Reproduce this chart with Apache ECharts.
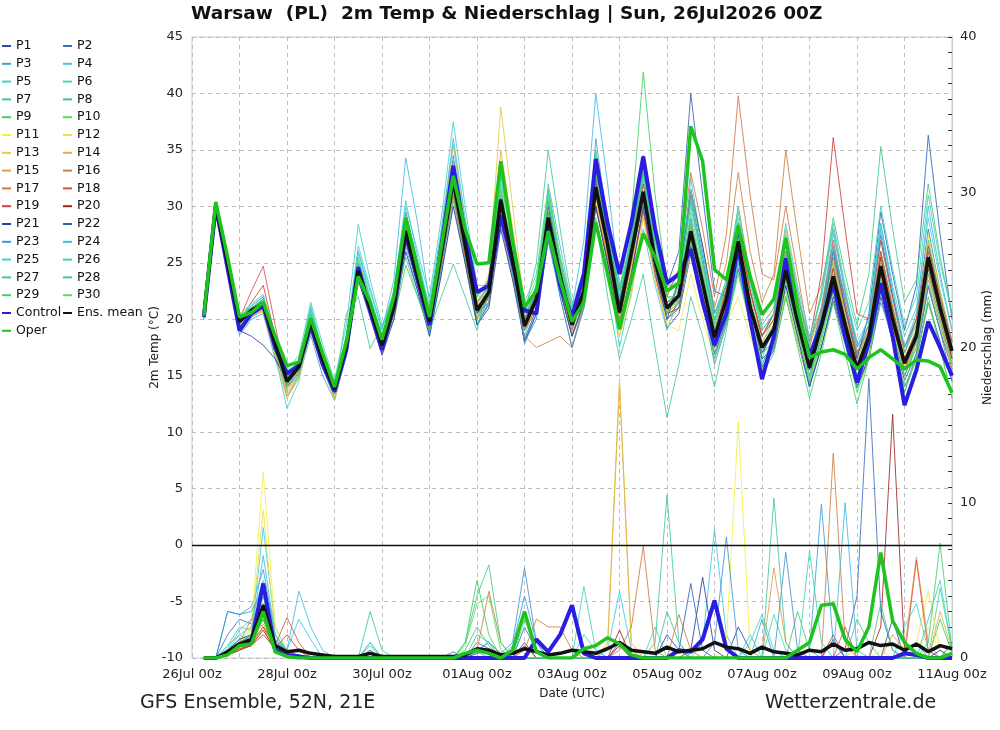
<!DOCTYPE html>
<html>
<head>
<meta charset="utf-8">
<title>Warsaw GFS Ensemble</title>
<script src="https://cdn.jsdelivr.net/npm/echarts@6/dist/echarts.min.js"></script>
<style>
  html, body { margin: 0; padding: 0; background: #fff; }
  #chart { width: 1000px; height: 730px; }
</style>
</head>
<body>
<div id="chart"></div>
<script>
// 6-hourly steps, hours after 26Jul2026 00z
const hours = [];
for (let h = 6; h <= 384; h += 6) hours.push(h);

const tempTicks = [-10, -5, 0, 5, 10, 15, 20, 25, 30, 35, 40, 45];
const rainTicks = [0, 10, 20, 30, 40];

// 2m temperature (°C)
const meanTemp = [20.3, 30.1, 25.0, 19.8, 20.8, 21.4, 17.9, 14.5, 15.8, 19.8, 16.4, 13.8, 17.7, 24.3, 21.0, 17.7,
  21.1, 27.8, 23.8, 19.8, 25.9, 32.3, 26.6, 20.8, 22.4, 30.6, 25.2, 19.4, 21.8, 29.0, 23.8, 19.5,
  22.5, 31.7, 26.6, 20.6, 25.9, 31.3, 25.2, 21.0, 22.1, 27.8, 23.2, 18.4, 21.8, 26.9, 21.1, 17.5,
  19.1, 24.3, 19.8, 15.7, 19.4, 23.8, 19.5, 15.6, 18.5, 24.7, 20.0, 16.1, 18.5, 25.5, 21.0, 17.2];
const controlTemp = [20.2, 30.0, 24.5, 19.0, 20.5, 21.2, 17.5, 15.2, 15.9, 19.5, 16.0, 13.6, 17.3, 24.6, 20.8, 17.3,
  21.2, 27.5, 23.5, 19.5, 26.5, 33.6, 27.5, 22.4, 23.0, 29.2, 25.0, 20.8, 20.5, 28.5, 23.0, 20.2,
  24.0, 34.2, 28.5, 24.0, 28.5, 34.4, 28.0, 23.2, 24.0, 26.2, 21.5, 17.7, 20.5, 26.5, 20.0, 14.7,
  18.5, 25.4, 20.5, 16.8, 19.5, 23.2, 18.5, 14.4, 18.0, 23.2, 18.5, 12.4, 15.5, 19.8, 17.5, 15.0];
const operTemp = [20.3, 30.4, 25.5, 20.2, 20.6, 21.5, 18.5, 15.9, 16.2, 20.1, 17.0, 14.0, 18.0, 23.8, 21.5, 18.2,
  22.0, 29.0, 24.5, 20.2, 26.5, 32.7, 28.0, 24.9, 25.0, 34.0, 27.0, 21.1, 22.5, 27.8, 23.5, 19.8,
  21.5, 28.6, 24.0, 19.1, 23.5, 27.6, 25.5, 22.5, 23.2, 37.1, 34.0, 24.4, 23.5, 28.3, 23.8, 20.4,
  21.8, 27.2, 21.0, 16.6, 17.1, 17.3, 16.9, 15.6, 16.6, 17.3, 16.5, 15.6, 16.4, 16.3, 15.8, 13.5];

const p1Temp = [20.1, 29.8, 24.6, 19.2, 20.2, 20.8, 17.0, 14.0, 15.2, 19.0, 15.8, 13.2, 17.0, 23.5, 20.4, 17.0,
  20.5, 26.9, 23.0, 18.9, 24.6, 31.0, 25.5, 19.6, 21.3, 29.4, 24.1, 18.2, 20.9, 27.6, 22.5, 18.6,
  21.5, 30.2, 25.1, 19.4, 24.4, 29.8, 24.0, 19.2, 20.5, 25.8, 21.6, 16.9, 19.8, 24.5, 19.6, 15.8,
  17.2, 22.0, 18.0, 14.1, 17.6, 21.6, 17.8, 13.9, 16.8, 22.8, 18.4, 14.6, 16.9, 22.9, 19.0, 15.6];
const p2Temp = [20.2, 30.0, 25.2, 19.9, 21.2, 22.0, 18.0, 14.8, 16.0, 20.2, 16.8, 14.0, 18.0, 25.0, 21.5, 18.0,
  21.8, 29.0, 24.8, 20.4, 27.0, 34.0, 28.0, 21.5, 23.0, 31.5, 26.0, 20.0, 23.0, 30.5, 24.5, 20.0,
  23.5, 33.5, 28.0, 21.5, 27.5, 34.0, 27.5, 22.5, 24.0, 31.0, 25.5, 19.5, 23.0, 28.5, 22.5, 18.5,
  20.5, 27.0, 21.5, 16.5, 21.0, 26.5, 21.0, 16.8, 19.5, 27.5, 22.0, 17.0, 20.0, 28.0, 22.5, 18.0];
const p3Temp = [20.0, 29.6, 24.4, 18.6, 20.0, 20.5, 16.5, 13.2, 14.8, 18.6, 15.0, 12.8, 16.8, 24.0, 20.8, 17.2,
  20.8, 28.2, 24.0, 19.0, 25.5, 33.0, 26.0, 19.5, 21.5, 31.5, 25.0, 17.8, 20.5, 28.0, 22.0, 17.5,
  21.0, 36.0, 28.5, 22.0, 26.0, 33.5, 26.0, 20.0, 21.0, 29.0, 22.5, 16.5, 20.0, 25.0, 19.5, 16.0,
  18.0, 23.0, 18.5, 14.0, 18.5, 22.5, 18.0, 14.5, 17.5, 23.5, 19.0, 15.0, 17.5, 24.5, 20.0, 16.0];
const p4Temp = [20.0, 30.1, 25.0, 19.0, 20.2, 21.0, 16.8, 12.1, 14.5, 20.5, 16.5, 13.0, 18.0, 26.0, 22.0, 18.5,
  22.5, 30.5, 25.5, 21.0, 27.5, 35.5, 28.0, 21.0, 22.0, 33.0, 26.5, 20.5, 22.0, 28.5, 23.0, 18.5,
  21.0, 31.0, 25.0, 17.5, 22.5, 28.0, 23.0, 19.0, 22.0, 32.5, 26.0, 20.0, 22.5, 27.0, 21.0, 16.5,
  19.5, 26.0, 20.5, 16.0, 21.0, 27.5, 22.5, 17.5, 20.0, 28.5, 22.5, 17.5, 19.5, 26.5, 21.5, 16.5];
const p5Temp = [20.3, 30.3, 25.3, 20.0, 21.0, 21.6, 18.0, 14.6, 15.8, 19.6, 16.2, 13.5, 17.5, 24.8, 21.2, 17.8,
  21.0, 27.5, 23.5, 19.0, 25.0, 31.5, 26.0, 20.0, 21.5, 28.5, 24.0, 18.5, 21.5, 30.0, 25.0, 20.5,
  24.0, 34.5, 28.0, 21.5, 27.0, 33.0, 26.5, 21.5, 22.5, 28.0, 23.5, 18.0, 21.0, 25.5, 20.0, 16.0,
  18.0, 22.5, 18.5, 14.0, 19.0, 25.0, 20.0, 15.0, 17.5, 23.0, 19.5, 15.5, 18.0, 26.0, 21.5, 17.0];
const p6Temp = [20.2, 30.0, 24.8, 19.5, 20.5, 21.8, 18.2, 15.0, 16.2, 20.8, 17.0, 14.2, 18.2, 25.5, 21.8, 18.2,
  21.5, 28.5, 24.5, 20.5, 26.5, 33.0, 27.0, 21.0, 22.5, 30.0, 25.0, 19.0, 21.0, 27.5, 23.0, 19.0,
  22.0, 30.0, 25.5, 20.0, 25.0, 30.5, 24.5, 20.5, 23.0, 30.5, 25.0, 19.0, 22.5, 28.0, 22.0, 18.0,
  19.5, 25.0, 20.0, 15.5, 20.0, 25.5, 21.0, 17.0, 19.5, 27.0, 21.5, 17.5, 20.0, 27.0, 22.0, 17.5];
const p7Temp = [20.4, 30.2, 25.1, 20.1, 21.0, 21.2, 17.6, 14.3, 15.5, 19.4, 16.0, 13.6, 17.5, 24.0, 20.5, 17.5,
  20.5, 26.5, 22.5, 18.5, 24.0, 30.5, 25.0, 19.5, 22.0, 30.5, 25.5, 20.0, 22.5, 31.0, 25.0, 20.5,
  23.0, 32.0, 27.0, 21.0, 26.0, 32.5, 26.0, 22.0, 21.5, 26.5, 22.0, 17.0, 20.5, 25.5, 20.0, 15.5,
  18.5, 24.5, 19.5, 15.0, 19.0, 24.0, 19.0, 14.5, 17.5, 24.0, 19.5, 15.5, 18.0, 25.0, 20.5, 16.5];
const p8Temp = [20.3, 30.0, 24.9, 19.7, 20.6, 21.0, 17.5, 14.2, 15.6, 19.9, 16.6, 13.9, 18.0, 24.6, 21.2, 17.9,
  21.4, 28.0, 24.0, 20.0, 26.2, 32.5, 26.8, 20.6, 22.0, 29.5, 24.5, 19.5, 22.0, 29.0, 24.0, 19.8,
  22.8, 31.5, 26.5, 20.5, 25.5, 30.5, 25.0, 21.0, 21.5, 27.0, 22.5, 17.5, 21.0, 26.0, 21.0, 17.0,
  19.0, 25.0, 20.5, 16.0, 20.0, 25.0, 20.5, 16.0, 18.5, 25.0, 20.5, 16.5, 19.0, 26.5, 21.5, 17.5];
const p9Temp = [20.2, 30.2, 25.0, 19.8, 20.8, 21.5, 18.0, 14.6, 15.9, 20.0, 16.5, 14.0, 17.8, 23.5, 20.5, 17.5,
  20.0, 24.8, 22.0, 19.0, 25.0, 31.0, 26.0, 21.5, 22.5, 30.0, 25.5, 20.0, 22.5, 30.0, 24.5, 20.0,
  23.5, 35.0, 28.5, 22.5, 29.0, 41.9, 31.0, 23.0, 23.0, 28.5, 23.5, 18.0, 21.5, 27.5, 21.5, 17.0,
  18.0, 22.0, 18.0, 14.5, 18.5, 22.5, 18.5, 14.0, 17.5, 22.5, 19.0, 15.0, 17.5, 23.5, 19.5, 16.0];
const p10Temp = [20.3, 30.1, 25.2, 20.0, 21.0, 21.6, 18.2, 15.0, 16.0, 20.0, 16.6, 14.0, 18.0, 24.5, 21.0, 17.8,
  21.2, 28.0, 24.0, 20.0, 26.0, 32.0, 26.5, 21.0, 22.5, 31.0, 25.5, 19.5, 22.0, 29.5, 24.0, 19.5,
  22.5, 32.5, 27.0, 21.0, 26.5, 32.0, 26.0, 21.5, 22.5, 29.5, 24.5, 19.5, 23.0, 29.0, 22.5, 18.5,
  20.0, 26.0, 21.0, 16.5, 20.5, 25.5, 20.5, 16.5, 19.0, 26.0, 21.0, 17.0, 19.5, 27.0, 22.0, 18.0];
const p11Temp = [20.2, 30.0, 24.8, 19.5, 20.3, 20.8, 17.2, 13.8, 15.2, 19.2, 16.0, 13.2, 17.5, 24.5, 21.0, 17.5,
  21.0, 28.5, 24.5, 20.0, 26.0, 33.5, 27.0, 20.0, 22.0, 32.0, 26.0, 19.0, 21.0, 29.5, 23.5, 18.5,
  21.5, 30.5, 25.0, 18.5, 23.0, 29.0, 23.5, 19.5, 19.0, 24.0, 20.0, 16.5, 19.5, 22.0, 18.5, 15.5,
  17.5, 22.0, 18.0, 14.5, 18.0, 23.0, 19.0, 15.0, 17.0, 23.5, 19.0, 15.5, 18.0, 24.5, 20.0, 16.5];
const p12Temp = [20.3, 30.2, 25.0, 19.8, 20.6, 21.2, 17.6, 14.4, 15.6, 19.8, 16.4, 13.6, 17.6, 24.2, 21.0, 17.6,
  21.2, 28.4, 24.4, 20.2, 26.4, 33.0, 27.0, 21.0, 22.6, 31.5, 25.5, 19.0, 21.5, 30.0, 24.0, 19.5,
  22.0, 30.5, 25.5, 19.5, 24.5, 30.0, 25.0, 21.0, 22.0, 27.0, 22.5, 17.5, 21.0, 26.0, 20.5, 16.5,
  17.5, 22.5, 18.5, 14.5, 19.0, 24.5, 20.0, 15.5, 18.0, 25.5, 20.5, 16.0, 18.5, 27.5, 22.5, 18.0];
const p13Temp = [20.2, 30.0, 25.1, 19.7, 20.5, 20.6, 16.8, 13.0, 14.8, 19.0, 15.8, 12.8, 17.0, 23.8, 20.8, 17.5,
  21.5, 29.5, 25.0, 20.5, 27.5, 35.5, 28.5, 21.5, 24.0, 38.8, 30.0, 21.0, 22.5, 31.0, 25.0, 20.5,
  22.0, 31.0, 25.5, 18.5, 22.0, 29.0, 23.5, 19.5, 21.0, 26.0, 22.0, 17.5, 21.5, 27.0, 21.5, 17.5,
  19.5, 25.5, 20.5, 16.0, 20.5, 26.0, 21.0, 16.5, 18.5, 24.5, 20.0, 16.0, 18.0, 25.0, 21.0, 17.0];
const p14Temp = [20.3, 30.1, 25.0, 19.6, 20.4, 20.8, 17.2, 13.5, 15.0, 19.4, 16.0, 13.0, 17.2, 24.0, 20.8, 17.4,
  21.0, 28.2, 24.2, 20.0, 26.5, 34.0, 27.5, 21.2, 23.0, 35.0, 28.0, 20.5, 22.0, 31.5, 25.5, 20.5,
  23.0, 33.0, 27.5, 21.0, 25.5, 31.0, 25.5, 20.5, 21.5, 27.5, 23.0, 18.0, 22.0, 28.0, 22.5, 18.0,
  20.0, 26.5, 21.0, 16.5, 20.0, 25.0, 20.5, 16.0, 18.0, 24.0, 19.5, 15.5, 17.5, 23.5, 19.5, 15.5];
const p15Temp = [20.2, 29.9, 24.7, 19.3, 20.2, 21.0, 17.4, 13.2, 15.0, 19.5, 16.2, 13.4, 17.4, 24.2, 21.0, 17.6,
  21.5, 28.8, 24.5, 20.2, 26.0, 32.5, 26.5, 20.5, 22.0, 30.5, 25.0, 19.0, 21.5, 29.0, 24.0, 19.5,
  22.0, 32.0, 26.5, 20.0, 25.0, 31.0, 25.0, 20.5, 22.0, 28.0, 23.5, 18.5, 23.0, 30.0, 24.0, 19.5,
  21.0, 28.0, 22.5, 17.5, 21.0, 26.5, 21.5, 17.0, 18.5, 24.5, 20.0, 15.5, 18.0, 24.0, 20.0, 16.0];
const p16Temp = [20.3, 30.0, 25.0, 19.5, 20.6, 21.3, 17.7, 14.0, 15.4, 19.5, 16.2, 13.6, 17.5, 24.0, 20.6, 17.5,
  21.0, 27.5, 23.5, 19.5, 25.0, 31.5, 26.0, 20.5, 21.5, 28.5, 23.5, 18.5, 17.5, 18.0, 18.5, 17.5,
  21.5, 30.0, 25.5, 20.0, 25.0, 31.0, 25.0, 20.5, 23.5, 31.0, 26.5, 21.0, 25.0, 33.0, 26.0, 21.5,
  24.0, 35.0, 27.5, 20.5, 23.0, 28.0, 22.5, 17.5, 19.5, 26.0, 21.0, 16.5, 19.0, 25.5, 21.0, 17.0];
const p17Temp = [20.2, 30.1, 25.0, 19.6, 20.4, 21.6, 18.2, 14.6, 15.8, 19.8, 16.4, 13.6, 17.6, 24.0, 20.8, 17.6,
  20.8, 27.0, 23.0, 19.2, 25.0, 31.0, 25.5, 20.0, 22.0, 30.0, 25.0, 19.5, 22.0, 29.0, 23.5, 19.0,
  22.5, 31.0, 26.0, 21.0, 26.5, 34.0, 27.5, 22.0, 24.5, 33.0, 28.0, 22.0, 27.5, 39.8, 31.0, 24.0,
  23.5, 30.0, 24.0, 18.0, 21.0, 25.5, 21.0, 16.5, 18.0, 24.0, 19.5, 15.5, 18.5, 25.0, 20.5, 16.5];
const p18Temp = [20.3, 30.0, 24.8, 20.0, 22.5, 24.7, 19.5, 14.5, 15.5, 19.2, 16.0, 13.5, 17.5, 23.8, 20.5, 17.2,
  20.5, 27.0, 23.0, 19.0, 25.0, 31.5, 26.0, 20.5, 22.0, 29.5, 24.5, 19.0, 21.0, 28.0, 23.0, 18.5,
  21.5, 30.0, 25.0, 19.5, 24.0, 29.5, 24.0, 20.0, 21.5, 27.5, 23.0, 18.5, 22.5, 28.5, 22.5, 18.5,
  20.0, 26.0, 21.0, 16.5, 20.5, 27.0, 21.5, 17.0, 19.0, 26.0, 21.0, 16.5, 19.0, 26.0, 21.5, 17.5];
const p19Temp = [20.2, 30.1, 25.1, 19.9, 21.5, 23.0, 18.5, 14.2, 15.6, 19.8, 16.4, 13.8, 17.8, 24.5, 21.0, 17.8,
  21.5, 28.5, 24.5, 20.5, 26.0, 32.0, 26.5, 21.0, 22.5, 30.5, 25.5, 20.0, 22.0, 28.5, 23.5, 19.5,
  22.5, 32.0, 27.0, 21.0, 26.0, 32.0, 26.0, 21.5, 22.0, 28.5, 24.0, 19.0, 22.5, 28.0, 22.5, 18.5,
  20.5, 27.0, 22.0, 18.0, 24.0, 36.1, 28.0, 20.5, 20.0, 27.0, 22.0, 17.5, 20.0, 26.5, 22.0, 18.0];
const p20Temp = [20.3, 30.0, 25.0, 19.8, 20.8, 21.8, 18.0, 14.8, 16.0, 20.0, 16.6, 14.0, 17.8, 24.2, 20.8, 17.5,
  21.0, 27.8, 24.0, 20.0, 25.5, 31.5, 26.0, 20.5, 22.0, 30.0, 25.0, 19.5, 22.0, 29.5, 24.0, 19.5,
  22.5, 32.5, 27.0, 20.5, 25.5, 30.5, 25.0, 20.5, 21.0, 26.5, 22.0, 17.5, 21.0, 26.0, 21.0, 17.0,
  19.0, 25.0, 20.0, 15.5, 19.5, 24.5, 20.0, 16.0, 18.5, 25.5, 20.5, 16.5, 18.5, 24.5, 20.5, 16.5];
const p21Temp = [20.2, 29.8, 24.5, 19.0, 18.5, 17.7, 16.5, 14.5, 15.5, 19.0, 15.8, 13.4, 17.0, 23.5, 20.2, 16.8,
  20.0, 26.0, 22.5, 18.5, 24.0, 30.0, 25.0, 19.5, 21.0, 28.0, 23.5, 18.0, 20.5, 27.0, 22.5, 18.5,
  21.5, 30.0, 25.0, 19.5, 24.0, 30.0, 24.5, 20.0, 23.5, 31.5, 26.5, 20.5, 23.0, 27.5, 21.0, 16.5,
  17.5, 23.0, 18.5, 14.0, 17.5, 22.0, 18.0, 14.0, 16.5, 22.0, 18.0, 14.0, 16.5, 21.5, 18.0, 14.5];
const p22Temp = [20.3, 30.0, 25.0, 19.7, 20.6, 21.2, 17.6, 14.6, 15.8, 19.6, 16.2, 13.8, 17.6, 24.4, 21.0, 17.6,
  21.0, 28.0, 24.0, 20.0, 26.5, 33.5, 27.5, 21.0, 22.5, 30.5, 25.0, 19.5, 22.5, 30.0, 24.5, 20.0,
  23.0, 33.0, 27.5, 21.5, 27.0, 34.5, 28.0, 23.0, 26.0, 40.0, 31.0, 22.5, 22.0, 27.0, 21.5, 17.0,
  19.0, 25.5, 20.5, 16.0, 20.0, 26.0, 21.0, 16.5, 20.5, 29.5, 24.0, 19.0, 23.0, 36.3, 27.5, 20.0];
const p23Temp = [20.2, 29.9, 24.8, 19.4, 20.4, 21.0, 17.4, 14.0, 15.2, 19.4, 16.0, 13.4, 17.6, 24.8, 21.4, 18.0,
  21.8, 29.5, 25.0, 20.5, 27.0, 34.5, 27.5, 20.5, 21.5, 29.0, 24.0, 18.0, 20.0, 27.0, 22.0, 17.5,
  21.0, 32.5, 27.0, 20.5, 26.0, 33.0, 26.0, 20.0, 21.0, 26.5, 21.5, 16.0, 19.5, 24.5, 19.5, 15.0,
  17.5, 23.5, 19.0, 14.5, 19.5, 26.0, 22.0, 18.0, 16.5, 21.5, 18.5, 13.5, 17.0, 23.0, 19.0, 14.5];
const p24Temp = [20.2, 30.0, 25.0, 19.8, 21.0, 21.8, 18.0, 14.6, 16.0, 21.0, 17.0, 14.2, 18.5, 26.0, 22.5, 19.0,
  23.5, 34.3, 28.5, 21.5, 28.0, 36.0, 29.0, 22.5, 22.5, 31.0, 25.5, 19.0, 22.5, 32.0, 26.5, 21.0,
  27.0, 40.0, 32.0, 23.0, 26.0, 30.5, 25.0, 21.0, 23.0, 29.0, 24.0, 19.0, 22.0, 27.0, 21.5, 17.5,
  19.5, 26.0, 21.0, 16.5, 20.5, 26.5, 22.0, 17.5, 19.5, 28.0, 22.5, 17.5, 20.5, 30.0, 24.0, 19.0];
const p25Temp = [20.3, 30.2, 25.3, 20.2, 21.2, 22.0, 18.2, 14.8, 16.2, 21.2, 17.2, 14.4, 18.5, 26.5, 22.8, 19.2,
  22.5, 30.0, 26.0, 22.0, 29.0, 37.5, 30.0, 23.0, 23.0, 32.5, 26.5, 20.5, 23.0, 31.0, 25.5, 20.5,
  23.5, 34.0, 28.0, 22.0, 27.5, 33.5, 27.0, 22.5, 23.5, 30.0, 25.0, 20.0, 23.5, 29.5, 23.5, 19.0,
  20.5, 27.5, 22.5, 18.0, 22.0, 28.0, 22.5, 18.0, 20.0, 28.5, 23.0, 18.5, 21.0, 29.0, 23.5, 19.0];
const p26Temp = [20.4, 30.3, 25.4, 20.4, 21.4, 22.2, 18.6, 15.5, 16.8, 21.5, 17.8, 14.6, 19.5, 28.4, 23.5, 19.5,
  22.0, 29.0, 25.0, 21.0, 27.0, 33.5, 27.5, 22.0, 23.5, 32.0, 27.0, 21.5, 24.0, 31.5, 25.5, 21.0,
  24.5, 34.5, 29.0, 22.5, 27.0, 32.5, 27.0, 23.0, 24.0, 31.5, 26.0, 20.5, 23.5, 30.0, 23.5, 19.5,
  21.0, 28.5, 23.0, 18.5, 22.0, 28.5, 23.0, 19.0, 21.5, 30.0, 24.5, 19.5, 22.0, 31.0, 25.0, 20.5];
const p27Temp = [20.3, 30.1, 25.0, 19.6, 20.5, 21.0, 17.2, 13.8, 15.0, 19.2, 16.0, 13.5, 20.5, 22.0, 17.4, 19.5,
  21.0, 25.5, 22.0, 19.0, 22.0, 24.9, 22.0, 19.0, 23.5, 33.0, 27.0, 20.5, 25.0, 35.0, 28.0, 21.5,
  22.0, 29.0, 22.0, 16.5, 20.0, 24.0, 17.5, 11.3, 16.0, 22.0, 18.5, 14.0, 19.0, 25.0, 20.5, 16.0,
  18.5, 25.5, 20.0, 15.0, 18.5, 23.0, 18.5, 14.0, 17.5, 23.5, 19.0, 15.0, 18.0, 24.0, 20.0, 16.0];
const p28Temp = [20.3, 30.2, 25.2, 20.0, 21.0, 21.8, 18.4, 15.2, 16.2, 20.5, 17.0, 14.2, 18.4, 25.0, 21.5, 18.2,
  21.5, 28.5, 24.5, 20.5, 26.5, 33.0, 27.0, 21.5, 23.0, 31.5, 26.0, 20.0, 23.0, 30.5, 25.0, 20.5,
  23.0, 33.5, 28.0, 22.0, 26.5, 33.0, 27.0, 22.5, 23.0, 30.5, 25.0, 20.0, 23.0, 28.5, 23.0, 19.0,
  20.5, 27.0, 22.0, 17.5, 22.5, 29.0, 24.0, 19.5, 24.0, 35.3, 28.0, 21.5, 23.5, 32.0, 25.5, 20.5];
const p29Temp = [20.2, 30.0, 24.9, 19.6, 20.4, 21.0, 17.5, 14.2, 15.5, 19.5, 16.2, 13.6, 17.4, 23.8, 20.6, 17.4,
  20.8, 27.0, 23.2, 19.4, 25.2, 31.5, 26.0, 20.2, 22.0, 30.0, 25.0, 19.5, 22.0, 29.5, 24.0, 20.0,
  23.5, 34.0, 28.5, 22.5, 27.5, 33.5, 27.0, 22.0, 22.0, 27.0, 22.0, 16.5, 19.5, 24.0, 19.5, 15.0,
  17.0, 22.0, 17.5, 13.0, 17.0, 21.5, 17.0, 12.5, 16.5, 22.5, 18.0, 13.5, 16.5, 22.0, 17.5, 13.0];
const p30Temp = [20.3, 30.3, 25.4, 20.3, 21.0, 21.6, 18.3, 15.4, 16.2, 20.6, 17.2, 14.4, 18.6, 25.4, 21.8, 18.4,
  22.0, 29.0, 25.0, 21.0, 27.0, 33.5, 27.5, 22.0, 23.5, 33.0, 27.0, 21.0, 23.5, 31.5, 25.5, 21.0,
  23.0, 33.0, 27.0, 21.0, 25.5, 31.0, 25.0, 20.5, 21.5, 28.5, 24.0, 19.0, 22.0, 27.0, 21.5, 17.0,
  18.0, 23.5, 19.0, 14.5, 18.0, 22.5, 18.0, 13.5, 16.5, 23.0, 18.5, 14.0, 16.5, 21.5, 17.5, 13.0];

// 6h precipitation (mm)
const meanRain = [0, 0, 0.4, 0.9, 1.2, 3.4, 0.8, 0.4, 0.5, 0.3, 0.2, 0.1, 0.1, 0.1, 0.3, 0.1,
  0.1, 0.1, 0.1, 0.1, 0.1, 0.1, 0.2, 0.6, 0.5, 0.2, 0.3, 0.6, 0.4, 0.2, 0.3, 0.5,
  0.4, 0.3, 0.6, 1.0, 0.5, 0.4, 0.3, 0.7, 0.4, 0.5, 0.6, 1.0, 0.7, 0.6, 0.3, 0.7,
  0.4, 0.3, 0.2, 0.5, 0.4, 0.9, 0.5, 0.6, 1.0, 0.8, 0.9, 0.5, 0.9, 0.4, 0.8, 0.6];
const controlRain = [0, 0, 0.3, 0.9, 1.0, 4.8, 0.5, 0.2, 0.1, 0, 0, 0, 0, 0, 0, 0,
  0, 0, 0, 0, 0, 0, 0, 0, 0, 0, 0, 0, 1.2, 0.4, 1.5, 3.4,
  0.3, 0, 0, 0, 0, 0, 0, 0, 0.5, 0.4, 1.2, 3.7, 0.6, 0, 0, 0,
  0, 0, 0, 0, 0, 0, 0, 0, 0, 0, 0, 0.3, 0.2, 0, 0, 0];
const operRain = [0, 0, 0.2, 0.8, 0.9, 3.0, 0.4, 0.1, 0, 0, 0, 0, 0, 0, 0, 0,
  0, 0, 0, 0, 0, 0, 0.3, 0.5, 0.3, 0, 0.5, 3.0, 0.4, 0, 0, 0,
  0.6, 0.8, 1.3, 0.9, 0.2, 0, 0, 0, 0, 0, 0, 0, 0, 0, 0, 0,
  0, 0, 0.5, 1.0, 3.4, 3.5, 1.2, 0.4, 2.0, 6.8, 2.4, 1.0, 0.3, 0, 0, 0.3];

const p1Rain = [0, 0, 0.5, 1.0, 1.2, 2.5, 0.6, 0.2, 0, 0, 0, 0, 0, 0, 0.5, 0,
  0, 0, 0, 0, 0, 0, 0, 0.3, 0.5, 0, 0, 1.0, 0, 0, 0, 0,
  0, 0, 0, 0.8, 0, 0, 0, 1.5, 0.5, 0, 0, 0, 0, 2.0, 0.5, 0,
  0, 0, 0, 0, 0, 1.2, 0, 0, 0, 0, 2.5, 0, 0, 0, 0, 1.0];
const p2Rain = [0, 0, 1.5, 2.5, 2.2, 3.0, 0.8, 0.4, 0.2, 0, 0, 0, 0, 0, 0, 0,
  0, 0, 0, 0, 0, 0.4, 0, 1.0, 0.6, 0, 0, 2.0, 0.5, 0, 0, 0,
  0, 0, 0, 1.0, 0, 0, 0, 0, 0, 0, 0, 0, 0, 0, 0, 0,
  0, 0, 0, 0, 0, 0, 0.6, 4.0, 18.0, 3.0, 0.5, 0, 0, 0, 0, 0];
const p3Rain = [0, 0, 3.0, 2.8, 3.3, 5.7, 1.5, 0.3, 0, 0, 0, 0, 0, 0, 0, 0,
  0, 0, 0, 0, 0, 0, 0, 0.4, 0, 0, 0.8, 4.0, 1.0, 0, 0, 0,
  0, 0, 0, 0, 0, 0, 0, 0, 0, 0, 0, 0, 0, 0, 0, 2.5,
  0, 0, 0, 0.5, 9.9, 1.0, 0, 0, 0, 0, 0, 0, 1.0, 0, 0, 0];
const p4Rain = [0, 0, 0.3, 1.0, 1.5, 8.4, 2.0, 0.5, 2.5, 1.2, 0, 0, 0, 0, 0, 0,
  0, 0, 0, 0, 0, 0, 0, 0, 0, 0, 0, 0, 0, 0, 0, 0,
  0, 0, 0.5, 4.3, 0.5, 0, 0, 0, 0, 0, 1.0, 8.3, 1.5, 0, 0, 0,
  0, 0, 0, 0, 0, 0, 0, 0, 0, 0, 0, 0, 0, 0, 0, 0];
const p5Rain = [0, 0, 0.5, 1.5, 1.0, 3.2, 1.0, 0.3, 0, 0, 0, 0, 0, 0, 1.0, 0,
  0, 0, 0, 0, 0, 0, 0, 0, 0, 0, 0, 0, 0, 0, 0, 0,
  1.5, 0.5, 0, 0, 0, 0, 0, 0, 0, 0, 0, 0, 0, 0, 1.5, 0,
  0, 0, 0, 0, 0, 0, 0, 0, 0, 0, 0, 2.0, 3.5, 0.5, 0, 0];
const p6Rain = [0, 0, 0.8, 2.0, 1.8, 4.0, 1.2, 0.3, 0, 0, 0, 0, 0, 0, 0, 0,
  0, 0, 0, 0, 0, 0, 0, 0.5, 1.0, 0.3, 0, 0, 0, 0, 0, 0,
  0, 0, 0, 0, 0, 0, 2.0, 0, 0, 0, 0, 0, 0, 0, 0, 0,
  2.8, 0.5, 0, 0, 0, 0, 0, 0, 0, 0, 0, 0, 0, 0, 4.5, 0.5];
const p7Rain = [0, 0, 0.4, 1.2, 1.5, 2.5, 0.8, 0.2, 0, 0, 0, 0, 0, 0, 0.8, 0,
  0, 0, 0, 0, 0, 0, 0, 1.5, 1.0, 0, 0, 0, 0, 0, 0, 0,
  0, 0, 0, 0, 0, 0, 0, 3.0, 1.0, 0, 0, 0, 0, 0, 0, 0,
  0, 0, 0, 0, 0, 0, 0, 2.5, 1.0, 0, 0, 0, 0, 0, 0, 0];
const p8Rain = [0, 0, 0.2, 0.8, 1.0, 3.5, 1.5, 0.5, 0, 0, 0, 0, 0, 0, 0, 0,
  0, 0, 0, 0, 0, 0, 0.5, 2.0, 0.8, 0, 0, 0, 0, 0, 0, 0,
  0, 0, 0, 0, 0, 0, 0, 0, 0, 0, 0, 0, 0, 0, 0, 0,
  0, 0, 3.0, 0.5, 0, 0, 0, 0, 0, 0, 0, 0, 0, 0, 0, 0];
const p9Rain = [0, 0, 0.3, 1.0, 1.2, 3.0, 0.8, 0.3, 0, 0, 0, 0, 0, 0, 0, 0,
  0, 0, 0, 0, 0, 0, 1.0, 5.0, 1.5, 0, 0, 0, 0, 0, 0, 0,
  0, 0, 0, 0, 0, 0, 0, 0, 0, 0, 0, 0, 0, 0, 0, 0,
  0, 0, 0, 0, 0, 0, 0, 0, 0, 0, 0, 0, 0, 0, 2.5, 0.3];
const p10Rain = [0, 0, 0.4, 1.0, 1.4, 4.0, 1.0, 0.4, 0, 0, 0, 0, 0, 0, 0, 0,
  0, 0, 0, 0, 0, 0, 0.8, 3.5, 4.0, 0.5, 0, 0, 0, 0, 0, 0,
  0, 0, 0, 0, 0, 0, 0, 0, 0, 0, 0, 0, 0, 0, 0, 0,
  0, 0, 0, 0, 0, 0, 0, 0, 0, 0, 0, 0, 0, 0, 0, 1.0];
const p11Rain = [0, 0, 0.3, 1.0, 2.0, 12.0, 2.0, 0.5, 0, 0, 0, 0, 0, 0, 0, 0,
  0, 0, 0, 0, 0, 0, 0, 0, 0, 0, 0, 0, 0, 0, 0, 0,
  0, 0, 0, 0, 0, 0, 0, 0, 0, 0, 0, 0, 1.0, 15.2, 0.5, 0,
  0, 0, 0, 0, 0, 0, 0, 0, 0, 0, 0, 0, 0, 2.0, 0.5, 0];
const p12Rain = [0, 0, 0.5, 1.2, 1.8, 9.5, 1.5, 0.3, 0, 0, 0, 0, 0, 0, 0, 0,
  0, 0, 0, 0, 0, 0, 0, 0, 0, 0, 0, 0, 0, 0, 0, 0,
  0, 0, 0, 0, 0, 0, 0, 0, 0, 0, 0, 0, 0, 0, 0, 0,
  0, 0, 0, 0, 0, 0, 0, 0.8, 0, 0.5, 0, 0, 1.0, 4.3, 0.5, 0];
const p13Rain = [0, 0, 0.2, 0.6, 1.0, 2.0, 0.5, 0, 0, 0, 0, 0, 0, 0, 0, 0,
  0, 0, 0, 0, 0, 0, 0, 0, 0, 0, 0, 0, 0, 0, 0, 0,
  0, 0, 1.0, 18.0, 0.5, 0, 0, 0, 0, 0, 0, 0, 0, 0, 0, 0,
  0, 0, 0, 0, 0, 0, 0, 0, 0, 0, 0, 0, 0, 0, 0, 0];
const p14Rain = [0, 0, 0.3, 0.8, 1.2, 2.2, 0.6, 0.2, 0, 0, 0, 0, 0, 0, 0, 0,
  0, 0, 0, 0, 0, 0, 0, 0, 0, 0, 0, 0, 0, 0, 0, 0,
  0, 0, 0.8, 17.5, 1.0, 0, 0, 0, 0, 0, 0, 0, 0, 0, 0, 0,
  0, 0, 0, 0, 0, 0, 0, 0, 0, 0, 0, 0, 0, 0, 3.0, 0.5];
const p15Rain = [0, 0, 0.3, 0.6, 0.8, 2.0, 0.4, 0, 0, 0, 0, 0, 0, 0, 0, 0,
  0, 0, 0, 0, 0, 0, 0, 0, 0, 0, 0, 0, 0, 0, 0, 0,
  0, 0, 0, 0, 0, 0, 0, 0, 0, 0, 0, 0, 0, 0, 0, 0,
  5.8, 1.0, 0, 0, 0, 0, 0, 0, 0, 0, 1.5, 0.5, 6.5, 1.0, 0, 0];
const p16Rain = [0, 0, 0.5, 1.0, 2.5, 2.0, 1.0, 0.5, 0, 0, 0, 0, 0, 0, 0, 0,
  0, 0, 0, 0, 0, 0, 0, 0.5, 4.3, 1.0, 0, 0.5, 2.5, 2.0, 2.0, 0.5,
  0, 0, 0, 0, 0, 0, 0, 0, 2.8, 0.5, 0, 0, 0, 0, 0, 0,
  0, 0, 0, 0, 0, 13.2, 1.0, 0, 0, 0, 0, 0, 0, 0, 0, 0];
const p17Rain = [0, 0, 0.3, 0.8, 1.5, 2.5, 0.5, 0.3, 0, 0, 0, 0, 0, 0, 0, 0,
  0, 0, 0, 0, 0, 0, 0, 0, 0, 0, 0, 0, 0, 0, 0, 0,
  0, 0, 0, 0.5, 2.0, 7.2, 0.5, 0, 0, 0, 0, 0, 0, 0, 0, 0,
  0, 0, 0, 0, 0, 0, 0, 0, 0, 0, 0, 0, 0, 0, 0, 0];
const p18Rain = [0, 0, 0.2, 0.5, 1.0, 2.0, 0.8, 2.6, 1.0, 0, 0, 0, 0, 0, 0, 0,
  0, 0, 0, 0, 0, 0, 0, 0, 0, 0, 0, 0.8, 0, 0, 0, 0,
  0, 0, 0, 0, 0, 0, 0, 0, 0, 0, 0, 0, 0, 0, 0, 0,
  0, 0, 0, 0, 0, 0, 2.0, 0, 0, 0, 0, 0, 6.3, 0.5, 0, 0];
const p19Rain = [0, 0, 0.3, 0.6, 0.8, 1.5, 0.6, 1.5, 0.5, 0, 0, 0, 0, 0, 0, 0,
  0, 0, 0, 0, 0, 0, 0, 0, 0, 0, 0, 0, 0, 0, 0, 0,
  0, 0, 0, 0.8, 0, 0, 0, 0, 0, 0, 0, 0, 0, 0, 0, 0,
  0, 0, 0, 0, 0, 1.5, 0, 0, 0, 0, 0, 0, 0, 0, 0, 0];
const p20Rain = [0, 0, 0.2, 0.5, 0.8, 1.8, 0.5, 0.5, 0, 0, 0, 0, 0, 0, 0, 0,
  0, 0, 0, 0, 0, 0, 0, 0, 0, 0, 0, 0, 0, 0, 0, 0,
  0, 0, 0, 1.8, 0, 0, 0, 0, 0, 0, 0, 0, 0, 0, 0, 0,
  0, 0, 0, 0, 0, 0, 0, 0, 0, 2.0, 15.7, 0.5, 0, 0, 0, 0];
const p21Rain = [0, 0, 0.5, 1.2, 1.5, 3.0, 0.8, 0.3, 0, 0, 0, 0, 0, 0, 0, 0,
  0, 0, 0, 0, 0, 0, 0, 0, 0, 0, 0, 0, 0, 0, 0, 0,
  0, 0, 0, 0, 0, 0, 0, 0, 0, 0.5, 5.2, 0.5, 0, 0, 0, 0,
  0, 0, 0, 0, 0, 0, 0, 0, 0, 0, 0, 0, 0, 0, 0.5, 0];
const p22Rain = [0, 0, 0.4, 1.0, 1.2, 2.8, 0.8, 0.2, 0, 0, 0, 0, 0, 0, 0, 0,
  0, 0, 0, 0, 0, 0, 0, 0, 0, 0, 0, 0, 0, 0, 0, 0,
  0, 0, 0, 0, 0, 0, 0, 0, 0.5, 4.8, 0.5, 0, 0, 0, 0, 0,
  0, 0, 0, 0, 0, 0, 0, 0, 0, 0, 0, 0, 0, 0, 0, 0];
const p23Rain = [0, 0, 3.0, 2.8, 3.0, 4.5, 1.2, 0.5, 0, 0, 0, 0, 0, 0, 0, 0,
  0, 0, 0, 0, 0, 0, 0, 0.5, 1.0, 0.3, 1.0, 5.8, 1.0, 0, 0, 0,
  0, 0, 0, 0, 0, 0, 0, 0, 0, 0, 0, 1.0, 7.8, 0.5, 0, 0,
  0, 6.8, 0.5, 0, 0, 0, 0, 0, 0, 0, 0, 0, 0, 0, 0, 0];
const p24Rain = [0, 0, 0.5, 1.0, 1.5, 6.6, 1.5, 0.5, 4.3, 2.0, 0.5, 0, 0, 0, 0, 0,
  0, 0, 0, 0, 0, 0, 0, 0, 0, 0, 0, 0, 0, 0, 0, 0,
  0, 0, 0, 0, 0, 0, 0, 0, 0, 0, 0, 0, 0, 0, 0, 0,
  0, 0, 0, 0, 0, 0, 10.0, 0.5, 0, 0, 0, 0, 0, 0, 0, 0];
const p25Rain = [0, 0, 0.8, 1.5, 2.0, 4.0, 1.0, 0.5, 0, 0, 0, 0, 0, 0, 1.0, 0,
  0, 0, 0, 0, 0, 0, 0, 0, 0, 0, 0, 0, 0, 0, 0, 0,
  0, 0, 0, 0, 0, 0, 0, 0, 0, 0, 0, 0, 0, 0, 1.0, 2.8,
  0.5, 0, 0, 0, 0, 0, 0, 0, 0, 0, 0, 0, 0, 2.5, 5.0, 0.5];
const p26Rain = [0, 0, 0.6, 1.8, 2.5, 5.0, 1.5, 0.5, 0, 0, 0, 0, 0, 0, 0, 0,
  0, 0, 0, 0, 0, 0, 0, 0, 0, 0, 0, 0, 0, 0, 0, 0,
  4.6, 0.5, 0, 0, 0, 0, 0, 0, 0, 0, 0, 0, 0, 0, 0, 0,
  0, 0, 0, 6.9, 1.0, 0, 0, 0, 0, 0, 0, 0, 0, 0, 0, 0];
const p27Rain = [0, 0, 0.5, 1.0, 1.5, 3.5, 1.0, 0.3, 0, 0, 0, 0, 0, 0, 3.0, 0.5,
  0, 0, 0, 0, 0, 0, 0, 0, 0, 0, 0, 0, 0, 0, 0, 0,
  0, 0, 0, 0, 0, 0, 1.0, 10.5, 1.0, 0, 0, 0, 0, 0, 0, 0,
  10.3, 1.0, 0, 0, 0, 0, 0, 0, 0, 0, 0, 0, 0, 0, 0, 0];
const p28Rain = [0, 0, 0.3, 1.0, 1.2, 3.0, 1.0, 0.3, 0, 0, 0, 0, 0, 0, 0, 0,
  0, 0, 0, 0, 0, 0, 1.0, 4.0, 6.0, 1.0, 0, 0, 0, 0, 0, 0,
  0, 0, 0, 0, 0, 0, 0, 0, 0, 0, 0, 0, 0, 0, 0, 0,
  0, 0, 0, 0, 0, 0, 0, 0, 0, 3.5, 0.5, 0, 0, 0, 0, 0];
const p29Rain = [0, 0, 0.3, 0.8, 1.0, 2.5, 0.6, 0.2, 0, 0, 0, 0, 0, 0, 0, 0,
  0, 0, 0, 0, 0, 0, 0, 0, 0, 0, 0, 2.5, 0.5, 0, 0, 0,
  0, 0, 0, 0, 0, 0, 0, 0, 0, 0, 0, 0, 0, 0, 0, 0,
  0, 0, 0, 0, 0, 0, 0, 0, 0, 0, 0, 0, 0, 1.0, 7.4, 0.5];
const p30Rain = [0, 0, 0.4, 1.0, 1.2, 3.2, 0.8, 0.3, 0, 0, 0, 0, 0, 0, 0, 0,
  0, 0, 0, 0, 0, 0, 0, 0, 0, 0, 0, 0, 0, 0, 0, 0,
  0, 0, 0, 0, 0, 0, 0, 0, 0, 0, 0, 0, 0, 0, 0, 0,
  0, 0, 0, 0, 0, 0, 0, 0, 0, 0, 0, 0, 0, 0, 0, 0];

const memberColors = ['#2d4ea6', '#3a6fc2', '#3aa2d4', '#3fcbe3', '#3fd2c4', '#44d8b4', '#3fc993', '#40c87a',
  '#42d062', '#55e055', '#f2f045', '#efe048', '#e8c845', '#e0b048', '#e2a045', '#c88246',
  '#d07846', '#d65444', '#d04040', '#a02525', '#2440a2', '#3262b8', '#4592d2', '#42bae2',
  '#40d0d0', '#42d2ba', '#42c99c', '#42c984', '#44d06c', '#56e256'];
const memberTemps = [p1Temp, p2Temp, p3Temp, p4Temp, p5Temp, p6Temp, p7Temp, p8Temp, p9Temp, p10Temp,
  p11Temp, p12Temp, p13Temp, p14Temp, p15Temp, p16Temp, p17Temp, p18Temp, p19Temp, p20Temp,
  p21Temp, p22Temp, p23Temp, p24Temp, p25Temp, p26Temp, p27Temp, p28Temp, p29Temp, p30Temp];
const memberRains = [p1Rain, p2Rain, p3Rain, p4Rain, p5Rain, p6Rain, p7Rain, p8Rain, p9Rain, p10Rain,
  p11Rain, p12Rain, p13Rain, p14Rain, p15Rain, p16Rain, p17Rain, p18Rain, p19Rain, p20Rain,
  p21Rain, p22Rain, p23Rain, p24Rain, p25Rain, p26Rain, p27Rain, p28Rain, p29Rain, p30Rain];

const months = ['Jan', 'Feb', 'Mar', 'Apr', 'May', 'Jun', 'Jul', 'Aug', 'Sep', 'Oct', 'Nov', 'Dec'];
const startMs = Date.UTC(2026, 6, 26);

function dateLabel(h) {
  if (h % 48 !== 0) return '';
  const d = new Date(startMs + h * 3600 * 1000);
  const dd = String(d.getUTCDate()).padStart(2, '0');
  return dd + months[d.getUTCMonth()] + ' 00z';
}

function makeLine(name, color, values, axisIndex, width, opacity, z) {
  return {
    name: name,
    type: 'line',
    yAxisIndex: axisIndex,
    data: hours.map((h, i) => [h, values[i]]),
    symbol: 'none',
    lineStyle: { color: color, width: width, opacity: opacity },
    itemStyle: { color: color },
    z: z,
    silent: true
  };
}

const series = [];
for (let k = 0; k < 30; k++) {
  const name = 'P' + (k + 1);
  series.push(makeLine(name, memberColors[k], memberTemps[k], 0, 1, 0.85, 2));
  series.push(makeLine(name, memberColors[k], memberRains[k], 1, 1, 0.85, 2));
}
const controlColor = '#2b1de0';
const meanColor = '#111111';
const operColor = '#1ec41e';
series.push(makeLine('Control', controlColor, controlTemp, 0, 4, 1, 3));
series.push(makeLine('Control', controlColor, controlRain, 1, 4, 1, 3));
const meanLine = makeLine('Ens. mean', meanColor, meanTemp, 0, 3.5, 1, 4);
meanLine.markLine = {
  silent: true,
  symbol: 'none',
  label: { show: false },
  lineStyle: { color: '#111', type: 'solid', width: 1.3 },
  data: [{ yAxis: 0 }]
};
series.push(meanLine);
series.push(makeLine('Ens. mean', meanColor, meanRain, 1, 3.5, 1, 4));
series.push(makeLine('Oper', operColor, operTemp, 0, 3.5, 1, 5));
series.push(makeLine('Oper', operColor, operRain, 1, 3.5, 1, 5));

const leftNames = [];
const rightNames = [];
for (let k = 1; k <= 30; k++) (k % 2 ? leftNames : rightNames).push('P' + k);
leftNames.push('Control', 'Oper');
rightNames.push('Ens. mean');

const legendBase = {
  orient: 'vertical',
  top: 39,
  icon: 'rect',
  itemWidth: 9,
  itemHeight: 2,
  itemGap: 3.8,
  padding: 0,
  selectedMode: false,
  textStyle: { fontSize: 12.5, color: '#111', lineHeight: 14 }
};

const chart = echarts.init(document.getElementById('chart'), null, { renderer: 'canvas' });
chart.setOption({
  animation: false,
  backgroundColor: '#ffffff',
  textStyle: { fontFamily: 'DejaVu Sans' },
  title: [
    {
      text: 'Warsaw  (PL)  2m Temp & Niederschlag | Sun, 26Jul2026 00Z',
      left: 191, top: 5, padding: 0,
      textStyle: { fontSize: 18.5, fontWeight: 'bold', color: '#111', fontFamily: 'DejaVu Sans' }
    },
    {
      text: 'GFS Ensemble, 52N, 21E',
      left: 140, top: 694, padding: 0,
      textStyle: { fontSize: 19, fontWeight: 'normal', color: '#222', fontFamily: 'DejaVu Sans' }
    },
    {
      text: 'Wetterzentrale.de',
      left: 765, top: 694, padding: 0,
      textStyle: { fontSize: 19, fontWeight: 'normal', color: '#222', fontFamily: 'DejaVu Sans' }
    }
  ],
  legend: [
    Object.assign({}, legendBase, { left: 2, data: leftNames }),
    Object.assign({}, legendBase, { left: 63, data: rightNames })
  ],
  grid: {
    left: 192, right: 48, top: 37, bottom: 72,
    outerBoundsMode: 'none',
    containLabel: false,
    show: true, borderColor: '#cccccc', borderWidth: 1
  },
  xAxis: {
    type: 'value',
    min: 0, max: 384, interval: 24,
    name: 'Date (UTC)',
    nameLocation: 'middle',
    nameGap: 30,
    nameTextStyle: { fontSize: 12, color: '#222' },
    axisLine: { show: false },
    axisTick: { show: false },
    axisLabel: { fontSize: 13, color: '#222', margin: 10, formatter: dateLabel, showMinLabel: true, showMaxLabel: true, hideOverlap: false },
    splitLine: { show: true, lineStyle: { color: '#bdbdbd', type: [4, 4], width: 1 } }
  },
  yAxis: [
    {
      type: 'value',
      min: tempTicks[0], max: tempTicks[tempTicks.length - 1], interval: 5,
      name: '2m Temp (°C)',
      nameLocation: 'middle',
      nameRotate: 90,
      nameGap: 31,
      nameMoveOverlap: false,
      nameTextStyle: { fontSize: 12, color: '#222' },
      axisLine: { show: false },
      axisTick: { show: false },
      axisLabel: { fontSize: 13, color: '#222', margin: 9 },
      splitLine: { show: true, lineStyle: { color: '#bdbdbd', type: [4, 4], width: 1 } }
    },
    {
      type: 'value',
      position: 'right',
      min: rainTicks[0], max: rainTicks[rainTicks.length - 1], interval: 10,
      name: 'Niederschlag (mm)',
      nameLocation: 'middle',
      nameRotate: 90,
      nameGap: 30,
      nameMoveOverlap: false,
      nameTextStyle: { fontSize: 12, color: '#222' },
      axisLine: { show: true, lineStyle: { color: '#cccccc' } },
      axisTick: { show: true, inside: true, length: 4, lineStyle: { color: '#333' } },
      minorTick: { show: true, splitNumber: 10, length: 4, lineStyle: { color: '#333' } },
      axisLabel: { fontSize: 13, color: '#222', margin: 8 },
      splitLine: { show: false }
    }
  ],
  series: series
});
</script>
</body>
</html>
